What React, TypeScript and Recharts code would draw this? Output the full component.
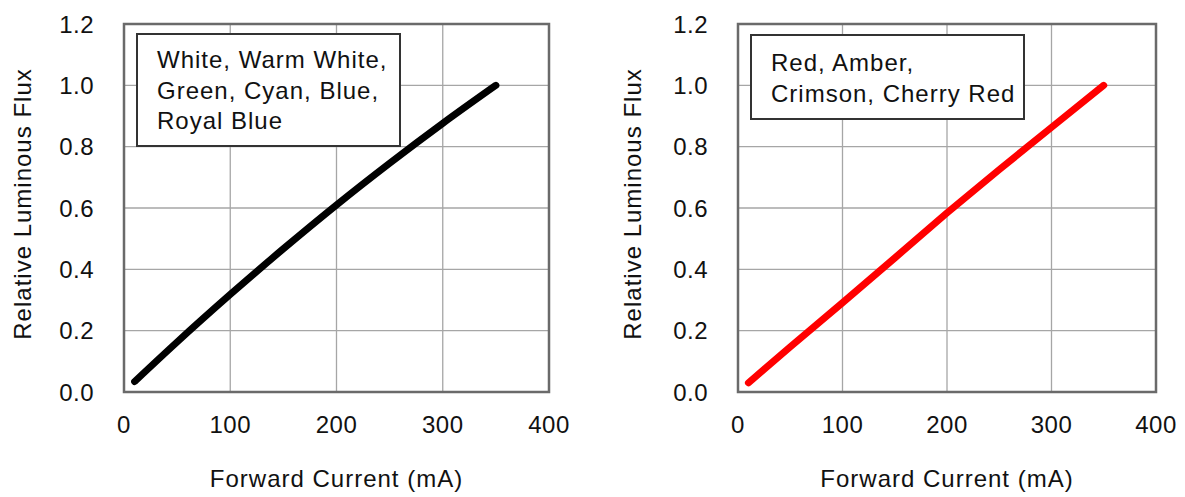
import React from 'react'
import { LineChart, Line, XAxis, YAxis, CartesianGrid, ReferenceArea } from 'recharts'

const currentMa = [10, 50, 100, 150, 200, 250, 300, 350]
const fluxBlueWhite = [0.034, 0.163, 0.318, 0.467, 0.61, 0.746, 0.876, 1.0]
const fluxRedAmber = [0.03, 0.147, 0.291, 0.437, 0.584, 0.725, 0.863, 1.0]
const xTicks = [0, 100, 200, 300, 400]
const yTicks = [0, 0.2, 0.4, 0.6, 0.8, 1.0, 1.2]
const legendBlueWhite = ['White, Warm White,', 'Green, Cyan, Blue,', 'Royal Blue']
const legendRedAmber = ['Red, Amber,', 'Crimson, Cherry Red']

const FONT = '"Liberation Sans", Arial, Helvetica, sans-serif'
const INK = '#111'

function XTitle(props: any) {
  const { viewBox } = props
  const cx = viewBox.x + viewBox.width / 2
  const cy = viewBox.y + 86
  return (
    <text x={cx} y={cy} textAnchor="middle" dominantBaseline="central"
      fontFamily={FONT} fontSize={24} letterSpacing={1} fill={INK}>
      Forward Current (mA)
    </text>
  )
}

function YTitle(props: any) {
  const { viewBox, offsetX } = props
  const cx = viewBox.x + offsetX
  const cy = 204
  return (
    <text x={cx} y={cy} transform={`rotate(-90 ${cx} ${cy})`} textAnchor="middle"
      dominantBaseline="central" fontFamily={FONT} fontSize={24} letterSpacing={1} fill={INK}>
      Relative Luminous Flux
    </text>
  )
}

interface FluxPanelProps {
  flux: number[]
  color: string
  curve: 'monotone' | 'linear'
  width: number
  yAxisWidth: number
  rightMargin: number
  titleX: number
}

function FluxPanel({ flux, color, curve, width, yAxisWidth, rightMargin, titleX }: FluxPanelProps) {
  const data = currentMa.map((ma, i) => ({ ma, flux: flux[i] }))
  const tickStyle = { fontFamily: FONT, fontSize: 24, letterSpacing: 0.5, fill: INK }

  return (
    <LineChart width={width} height={497} data={data}
      margin={{ top: 24, right: rightMargin, bottom: 0, left: 0 }}>
      <CartesianGrid stroke="#a6a6a6" strokeWidth={1.3} />
      <XAxis dataKey="ma" type="number" domain={[0, 400]} ticks={xTicks}
        height={105} tickSize={0} tickMargin={24} tickLine={false} axisLine={false}
        tick={tickStyle} interval={0} label={<XTitle />} />
      <YAxis type="number" domain={[0, 1.2]} ticks={yTicks} width={yAxisWidth}
        tickSize={0} tickMargin={30} tickLine={false} axisLine={false}
        tick={tickStyle} interval={0} tickFormatter={(v: number) => v.toFixed(1)}
        label={<YTitle offsetX={titleX} />} />
      <ReferenceArea x1={0} x2={400} y1={0} y2={1.2} fill="none" fillOpacity={0}
        stroke="#6a6a6a" strokeWidth={2.5} />
      <Line type={curve} dataKey="flux" stroke={color} strokeWidth={7}
        strokeLinecap="round" strokeLinejoin="round" dot={false} activeDot={false}
        isAnimationActive={false} />
    </LineChart>
  )
}

function LegendBox({ lines, left, top, width, height, padTop }:
  { lines: string[]; left: number; top: number; width: number; height: number; padTop: number }) {
  return (
    <div style={{
      position: 'absolute', left, top, width, height, boxSizing: 'border-box',
      border: '2px solid #333', background: '#fff', paddingLeft: 19, paddingTop: padTop,
      fontFamily: FONT, fontSize: 24, letterSpacing: 1, lineHeight: '30.5px', color: INK,
      whiteSpace: 'nowrap',
    }}>
      {lines.map((l) => <div key={l}>{l}</div>)}
    </div>
  )
}

export default function App() {
  return (
    <div style={{ position: 'absolute', left: 0, top: 0, width: 1185, height: 497, background: '#fff', overflow: 'hidden' }}>
      <div style={{ position: 'absolute', left: 0, top: 0 }}>
        <FluxPanel flux={fluxBlueWhite} color="#000000" curve="monotone" width={600} yAxisWidth={124} rightMargin={51} titleX={22} />
      </div>
      <div style={{ position: 'absolute', left: 600, top: 0 }}>
        <FluxPanel flux={fluxRedAmber} color="#ff0000" curve="linear" width={585} yAxisWidth={138} rightMargin={29} titleX={32} />
      </div>
      <LegendBox lines={legendBlueWhite} left={136} top={33} width={265} height={114} padTop={10} />
      <LegendBox lines={legendRedAmber} left={750} top={34} width={275} height={86} padTop={12} />
    </div>
  )
}
